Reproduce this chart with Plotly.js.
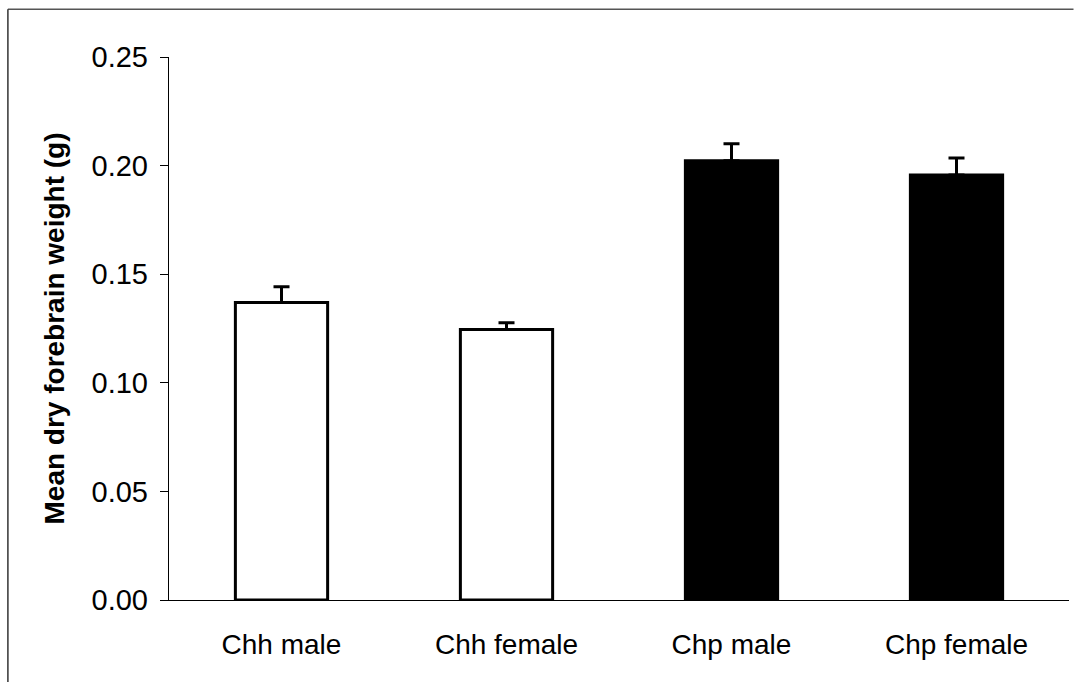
<!DOCTYPE html>
<html>
<head>
<meta charset="utf-8">
<script src="https://cdn.plot.ly/plotly-3.0.1.min.js"></script>
<style>
  html, body { margin: 0; padding: 0; background: #fff; }
  #chart { width: 1076px; height: 682px; }
</style>
</head>
<body>
<div id="chart"></div>
<script>
// Mean dry forebrain weight by group, with upper standard-error bars
const groups = ['Chh male', 'Chh female', 'Chp male', 'Chp female'];
const meanWeight = [0.137, 0.1245, 0.2022, 0.1957];
const stdError = [0.0072, 0.0031, 0.0079, 0.0078];
const noLowerError = [0, 0, 0, 0];
const barFill = ['#ffffff', '#ffffff', '#000000', '#000000'];
const yTicks = [0, 0.05, 0.10, 0.15, 0.20, 0.25];
const yTickText = ['0.00', '0.05', '0.10', '0.15', '0.20', '0.25'];

const trace = {
  type: 'bar',
  x: groups,
  y: meanWeight,
  marker: { color: barFill, line: { color: '#000', width: 3 } },
  error_y: {
    type: 'data',
    symmetric: false,
    array: stdError,
    arrayminus: noLowerError,
    color: '#000',
    thickness: 3,
    width: 8
  },
  hoverinfo: 'none'
};

const family = 'Liberation Sans, Arial, sans-serif';

const layout = {
  width: 1076,
  height: 682,
  margin: { l: 169, r: 7, t: 57, b: 82 },
  paper_bgcolor: '#fff',
  plot_bgcolor: '#fff',
  bargap: 0.59,
  showlegend: false,
  font: { family: family, color: '#000' },
  xaxis: {
    showline: true,
    linecolor: '#000',
    linewidth: 1.2,
    ticks: '',
    showgrid: false,
    zeroline: false,
    tickfont: { family: family, size: 28, color: '#000' },
    ticklabelstandoff: 19
  },
  yaxis: {
    range: [0, 0.25],
    tickvals: yTicks,
    ticktext: yTickText,
    showline: true,
    linecolor: '#000',
    linewidth: 1.2,
    ticks: 'outside',
    ticklen: 8,
    tickwidth: 1,
    tickcolor: '#000',
    showgrid: false,
    zeroline: false,
    tickfont: { family: family, size: 29, color: '#000' },
    ticklabelstandoff: 6,
    title: {
      text: '<b>Mean dry forebrain weight (g)</b>',
      font: { family: family, size: 28, color: '#000' },
      standoff: 18
    }
  },
  shapes: [
    // figure frame: top and left edges
    { type: 'line', xref: 'paper', yref: 'paper', x0: -0.179, x1: 1.005, y0: 1.088, y1: 1.088,
      line: { color: '#555', width: 1.5 } },
    { type: 'line', xref: 'paper', yref: 'paper', x0: -0.179, x1: -0.179, y0: 1.088, y1: -0.16,
      line: { color: '#333', width: 1.5 } }
  ]
};

Plotly.newPlot('chart', [trace], layout, { displayModeBar: false, staticPlot: true });
</script>
</body>
</html>
